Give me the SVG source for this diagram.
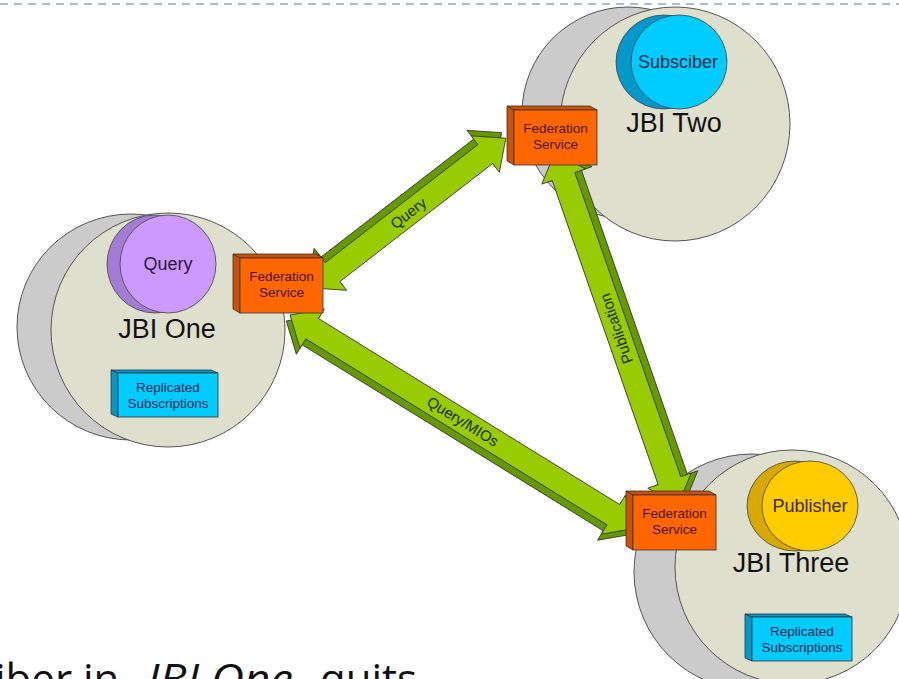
<svg xmlns="http://www.w3.org/2000/svg" width="899" height="679" viewBox="0 0 899 679">
<defs>
<style>
.back{fill:#cbcbcb;stroke:#555;stroke-width:1}
.front{fill:#dee0cd;stroke:#555;stroke-width:1}
.jbi{font-family:"Liberation Sans",Arial,sans-serif;font-size:27px;fill:#111;text-anchor:middle}
.inner{font-family:"Liberation Sans",Arial,sans-serif;font-size:18px;text-anchor:middle}
.box{font-family:"Liberation Sans",Arial,sans-serif;font-size:13.5px;text-anchor:middle}
.lbl{font-family:"Liberation Sans",Arial,sans-serif;font-size:15px;fill:#1a2a00;text-anchor:middle}
.arL{fill:#99cc00;stroke:#333;stroke-width:0.8;stroke-linejoin:round}
.arD{fill:#669900;stroke:#333;stroke-width:0.8;stroke-linejoin:round}
.fsF{fill:#ff6600;stroke:#333;stroke-width:0.8}
.fsS{fill:#cc5200;stroke:#333;stroke-width:0.8}
.rsF{fill:#00ccff;stroke:#333;stroke-width:0.8}
.rsS{fill:#0099cc;stroke:#333;stroke-width:0.8}
.bottom{font-family:"Open Sans","Noto Sans",sans-serif;font-size:42px;fill:#111}
</style>
<g id="fsShape">
<polygon class="fsS" points="-7,-4 0,0 0,55 -7,51"/>
<polygon class="fsS" points="-7,-4 76,-4 83,0 0,0"/>
<rect class="fsF" x="0" y="0" width="83" height="55"/>
<text class="box" x="41.5" y="23" fill="#4a1500">Federation</text>
<text class="box" x="41.5" y="39" fill="#4a1500">Service</text>
</g>
<g id="rsShape">
<polygon class="rsS" points="-7,-3 0,0 0,44 -7,41"/>
<polygon class="rsS" points="-7,-3 93,-3 100,0 0,0"/>
<rect class="rsF" x="0" y="0" width="100" height="44"/>
<text class="box" x="50" y="19" fill="#0a2850">Replicated</text>
<text class="box" x="50" y="35" fill="#0a2850">Subscriptions</text>
</g>
</defs>
<rect width="899" height="679" fill="#fff"/>
<line x1="0" y1="4" x2="899" y2="4" stroke="#a7bdd3" stroke-width="2" stroke-dasharray="8 6"/>

<g id="jbi-one">
<ellipse class="back" cx="131" cy="327" rx="114" ry="113"/>
<ellipse class="front" cx="168" cy="330" rx="117" ry="117"/>
<g id="query-client">
<ellipse cx="155" cy="264" rx="48" ry="49" fill="#a47cd6" stroke="#444" stroke-width="0.8"/>
<ellipse cx="168" cy="264" rx="48" ry="49" fill="#cc99ff" stroke="#444" stroke-width="0.8"/>
<text class="inner" x="168" y="270" fill="#2a1440">Query</text>
</g>
<text class="jbi" x="167" y="338">JBI One</text>
<use href="#rsShape" x="118" y="373"/>
</g>

<g id="jbi-two">
<ellipse class="back" cx="628" cy="113" rx="106" ry="106"/>
<ellipse class="front" cx="675" cy="124" rx="115" ry="117"/>
<g id="subscriber">
<ellipse cx="664" cy="62" rx="48" ry="47" fill="#0099cc" stroke="#444" stroke-width="0.8"/>
<ellipse cx="679" cy="62" rx="48" ry="47" fill="#00ccff" stroke="#444" stroke-width="0.8"/>
<text class="inner" x="678" y="68" fill="#0a2a45">Subsciber</text>
</g>
<text class="jbi" x="674" y="132">JBI Two</text>
</g>

<g id="jbi-three">
<ellipse class="back" cx="752" cy="572" rx="118" ry="118"/>
<ellipse class="front" cx="792" cy="567" rx="117" ry="117"/>
<g id="publisher">
<ellipse cx="795" cy="506" rx="48" ry="45" fill="#d6a800" stroke="#444" stroke-width="0.8"/>
<ellipse cx="810" cy="506" rx="48" ry="45" fill="#ffcc00" stroke="#444" stroke-width="0.8"/>
<text class="inner" x="810" y="512" fill="#3d2a00">Publisher</text>
</g>
<text class="jbi" x="791" y="572">JBI Three</text>
<use href="#rsShape" x="752" y="617"/>
</g>

<g id="connectors">
<g id="arrow-query" transform="translate(312,288) rotate(-37.7)">
<polygon class="arD" transform="translate(0,-7)" points="0,0 26,-23 26,-12 219,-12 219,-23 245,0 219,23 219,12 26,12 26,23"/>
<polygon class="arL" points="0,0 26,-23 26,-12 219,-12 219,-23 245,0 219,23 219,12 26,12 26,23"/>
<text class="lbl" x="122" y="5">Query</text>
</g>
<g id="arrow-querymios" transform="translate(290,315) rotate(31.7)">
<polygon class="arD" transform="translate(0,7)" points="0,0 26,-23 26,-12 380,-12 380,-23 406,0 380,23 380,12 26,12 26,23"/>
<polygon class="arL" points="0,0 26,-23 26,-12 380,-12 380,-23 406,0 380,23 380,12 26,12 26,23"/>
<text class="lbl" x="203" y="5">Query/MIOs</text>
</g>
<g id="arrow-publication" transform="translate(555,152) rotate(70.8)">
<polygon class="arD" transform="translate(0,-7)" points="0,0 26,-23 26,-12 348,-12 348,-23 374,0 348,23 348,12 26,12 26,23"/>
<polygon class="arL" points="0,0 26,-23 26,-12 348,-12 348,-23 374,0 348,23 348,12 26,12 26,23"/>
<text class="lbl" transform="translate(187,0) rotate(180)" y="5">Publication</text>
</g>
</g>

<g id="fs-one"><use href="#fsShape" x="240" y="258"/></g>
<g id="fs-two"><use href="#fsShape" x="514" y="110"/></g>
<g id="fs-three"><use href="#fsShape" x="633" y="495"/></g>

<text class="bottom" x="-5" y="694">iber in</text>
<text class="bottom" x="147" y="694" font-style="italic" textLength="146" lengthAdjust="spacingAndGlyphs">JBI One</text>
<text class="bottom" x="320" y="694">quits</text>
</svg>
